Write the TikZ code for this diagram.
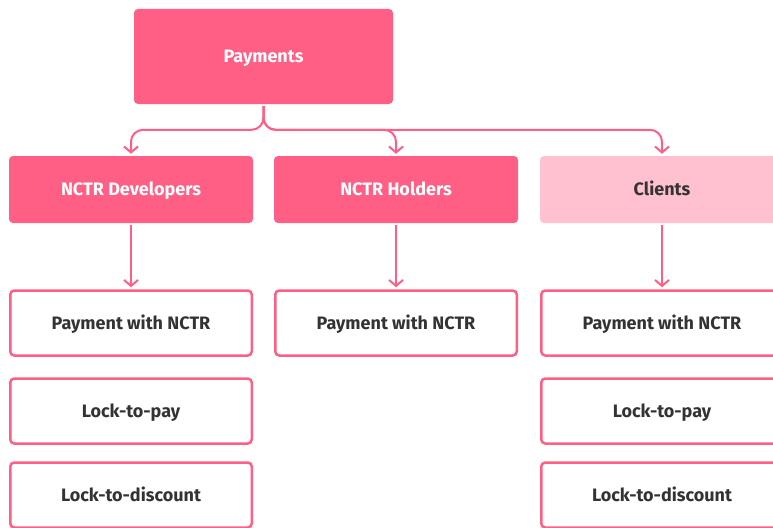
\documentclass[tikz,border=0pt]{standalone}
\usepackage{fontspec}
\setmainfont{Fira Sans}
\usetikzlibrary{arrows.meta}
\definecolor{nctrpink}{HTML}{FF5F85}
\definecolor{nctrlight}{HTML}{FFC1D0}
\definecolor{nctrtext}{HTML}{333333}
\begin{document}
\begin{tikzpicture}[x=1pt,y=-1pt,
  every node/.style={inner sep=0pt,text height=12.4pt,text depth=0pt,font=\fontsize{18}{21}\selectfont\bfseries},
  head/.style={fill=nctrpink,text=white,rounded corners=4pt,minimum width=259pt,minimum height=95pt},
  group/.style={fill=nctrpink,text=white,rounded corners=4pt,minimum width=244pt,minimum height=67pt},
  grouplight/.style={group,fill=nctrlight,text=nctrtext},
  item/.style={draw=nctrpink,line width=2.5pt,text=nctrtext,rounded corners=4pt,minimum width=241.5pt,minimum height=65pt},
  link/.style={draw=nctrpink,line width=2pt,rounded corners=12pt,shorten <=2pt,shorten >=2pt,-{Straight Barb[length=6pt,width=14pt,line width=2pt]}}]
\useasboundingbox (0,0) rectangle (773,527);
\clip (0,0) rectangle (773,527);
% top
\node[head] (pay) at (263.5,56.5) {Payments};
% second row
\node[group] (dev) at (131,189.5) {NCTR Developers};
\node[group] (hold) at (396,189.5) {NCTR Holders};
\node[grouplight] (cli) at (662,189.5) {Clients};
% items
\node[item] (devpay) at (131,323) {Payment with NCTR};
\node[item] (devlock) at (131,411) {Lock-to-pay};
\node[item] (devdisc) at (131,495) {Lock-to-discount};
\node[item] (holdpay) at (396,323) {Payment with NCTR};
\node[item] (clipay) at (662,323) {Payment with NCTR};
\node[item] (clilock) at (662,411) {Lock-to-pay};
\node[item] (clidisc) at (662,495) {Lock-to-discount};
% branches
\draw[link] (pay.south) |- ([yshift=26pt]dev.north) -- (dev.north);
\draw[link] (pay.south) |- ([yshift=26pt]hold.north) -- (hold.north);
\draw[link] (pay.south) |- ([yshift=26pt]cli.north) -- (cli.north);
\draw[link] (dev.south) -- (devpay.north);
\draw[link] (hold.south) -- (holdpay.north);
\draw[link] (cli.south) -- (clipay.north);
\end{tikzpicture}
\end{document}
